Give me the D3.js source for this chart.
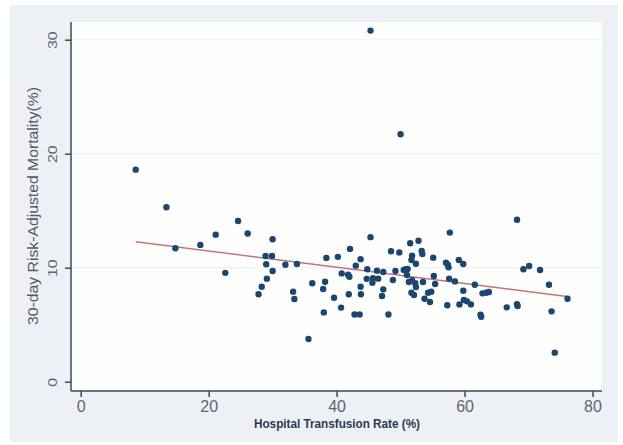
<!DOCTYPE html>
<html>
<head>
<meta charset="utf-8">
<script src="https://cdn.jsdelivr.net/npm/d3@7"></script>
<style>
  body { margin: 0; background: #ffffff; }
  svg { display: block; font-family: "Liberation Sans", Arial, sans-serif; }
</style>
</head>
<body>
<svg></svg>
<script>
// hospital transfusion rate (%) for each hospital
const transfusionRate = [
  45.3, 50.0, 8.6, 13.4, 14.8, 18.7, 21.1, 22.6, 24.6, 26.1,
  27.8, 28.3, 29.0, 28.9, 29.1, 29.9, 30.0, 30.0, 32.0, 33.2,
  33.4, 33.8, 35.6, 36.2, 37.9, 38.0, 38.2, 38.4, 39.6, 40.2,
  40.7, 40.8, 41.8, 42.0, 41.9, 42.1, 42.8, 43.0, 43.6, 43.75,
  43.75, 43.8, 44.8, 44.7, 45.3, 45.6, 45.7, 46.5, 46.3, 47.1,
  47.3, 47.3, 48.1, 48.5, 48.8, 49.2, 49.8, 50.5, 50.8, 51.1,
  51.0, 51.3, 51.8, 52.3, 52.4, 51.5, 51.7, 51.8, 51.7, 52.1,
  52.4, 52.8, 53.3, 53.4, 53.5, 53.75, 54.3, 54.6, 54.8, 55.1,
  55.2, 55.4, 57.1, 57.4, 57.5, 57.3, 57.6, 57.7, 58.5, 59.1,
  59.2, 59.8, 59.8, 59.9, 60.4, 61.0, 61.6, 62.5, 62.6, 62.8,
  63.4, 63.8, 66.6, 68.2, 68.2, 68.3, 69.2, 70.1, 71.8, 73.2,
  73.6, 74.1, 76.1
];

// 30-day risk-adjusted mortality (%) in the same order
const mortality = [
  30.8, 21.7, 18.6, 15.3, 11.7, 12.0, 12.9, 9.55, 14.1, 13.0,
  7.67, 8.33, 10.3, 11.03, 9.04, 11.03, 12.5, 9.71, 10.26, 7.9,
  7.25, 10.32, 3.75, 8.63, 8.13, 6.08, 8.77, 10.86, 7.36, 10.95,
  6.5, 9.5, 9.39, 9.2, 7.67, 11.65, 5.9, 10.18, 5.9, 8.33,
  10.75, 7.67, 9.87, 9.02, 12.68, 8.68, 9.07, 9.04, 9.74, 7.52,
  8.1, 9.62, 5.9, 11.44, 8.92, 9.71, 11.33, 9.8, 9.86, 9.89,
  9.36, 8.74, 8.9, 8.63, 8.3, 12.15, 10.68, 11.05, 7.8, 7.6,
  10.35, 12.37, 11.46, 11.2, 8.74, 7.28, 7.8, 6.99, 7.9, 10.88,
  9.27, 8.57, 10.44, 10.26, 10.03, 6.7, 9.04, 13.08, 8.8, 10.68,
  6.78, 10.32, 7.98, 7.17, 7.05, 6.78, 8.5, 5.88, 5.7, 7.75,
  7.8, 7.87, 6.52, 14.2, 6.8, 6.64, 9.86, 10.15, 9.8, 8.5,
  6.17, 2.55, 7.28
];

// ends of the fitted line
const fitX = [8.6, 76.3];
const fitY = [12.28, 7.45];

const xTicks = [0, 20, 40, 60, 80];
const yTicks = [0, 10, 20, 30];

const xTitle = "Hospital Transfusion Rate (%)";
const yTitle = "30-day Risk-Adjusted Mortality(%)";

const points = transfusionRate.map((d, i) => { return { x: d, y: mortality[i] } });
const fitLine = fitX.map((d, i) => { return { x: d, y: fitY[i] } });

const svg = d3.select("svg");
svg.attr("width", 623);
svg.attr("height", 445);

// stata style grey-blue outer region and white plot region
svg.append("rect")
  .attr("x", 10).attr("y", 5)
  .attr("width", 608).attr("height", 437)
  .style("fill", "#edf1f6");

svg.append("rect")
  .attr("x", 71).attr("y", 22)
  .attr("width", 531).attr("height", 369)
  .style("fill", "#fefefd");

const xScale = d3.scaleLinear()
  .domain([0, 80])
  .range([80.7, 592.5]);

const yScale = d3.scaleLinear()
  .domain([0, 30])
  .range([381.7, 39.7]);

// faint horizontal grid
svg.append("g")
  .selectAll("line")
  .data(yTicks.filter(d => d > 0))
  .enter()
  .append("line")
  .attr("x1", 71).attr("x2", 602)
  .attr("y1", d => yScale(d)).attr("y2", d => yScale(d))
  .style("stroke", "#eef3f7")
  .style("stroke-width", 1.5);

// x axis
const xAxis = svg.append("g")
  .attr("transform", "translate(0, 391)")
  .call(d3.axisBottom(xScale).tickValues(xTicks).tickSize(6).tickPadding(4).tickSizeOuter(0));

xAxis.select(".domain").attr("d", "M71,0H602");
xAxis.selectAll("text")
  .style("font-size", "16px")
  .style("fill", "#5d6670");

// y axis
const yAxis = svg.append("g")
  .attr("transform", "translate(71, 0)")
  .call(d3.axisLeft(yScale).tickValues(yTicks).tickSize(6).tickSizeOuter(0));

yAxis.select(".domain").attr("d", "M0,22V391");
yAxis.selectAll("text").remove();

// rotated y tick labels, slightly squashed like the original
yAxis.selectAll("g.tick")
  .append("text")
  .attr("transform", "translate(-14.5, 0) scale(0.85, 1) rotate(-90)")
  .attr("text-anchor", "middle")
  .style("font-size", "16px")
  .style("fill", "#5d6670")
  .text(d => d);

svg.selectAll(".domain, .tick line")
  .style("stroke", "#3e4852")
  .style("stroke-width", 1.5);

// titles
svg.append("text")
  .attr("x", 337)
  .attr("y", 427.5)
  .attr("text-anchor", "middle")
  .attr("textLength", 166)
  .attr("lengthAdjust", "spacingAndGlyphs")
  .style("font-size", "13px")
  .style("font-weight", "bold")
  .style("fill", "#2c3a52")
  .text(xTitle);

svg.append("text")
  .attr("transform", "translate(37.5, 206) scale(0.85, 1) rotate(-90)")
  .attr("text-anchor", "middle")
  .attr("textLength", 238)
  .attr("lengthAdjust", "spacingAndGlyphs")
  .style("font-size", "17px")
  .style("fill", "#4f5b68")
  .text(yTitle);

// fitted line
const lineGenerator = d3.line()
  .x(d => xScale(d.x))
  .y(d => yScale(d.y));

svg.append("path")
  .datum(fitLine)
  .attr("d", lineGenerator)
  .style("fill", "none")
  .style("stroke", "#c47278")
  .style("stroke-width", 1.4);

// hospitals
svg.append("g")
  .selectAll("circle")
  .data(points)
  .enter()
  .append("circle")
  .attr("cx", d => xScale(d.x))
  .attr("cy", d => yScale(d.y))
  .attr("r", 3.2)
  .style("fill", "#1a4670");
</script>
</body>
</html>
